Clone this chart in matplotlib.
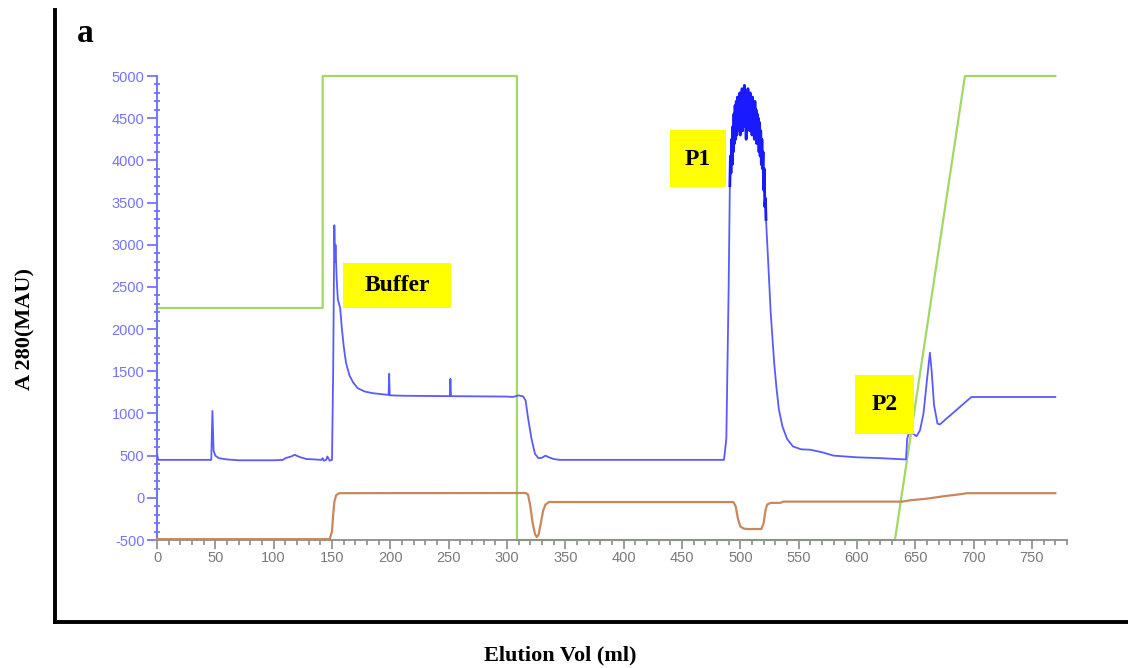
import matplotlib
matplotlib.use("Agg")
import matplotlib.pyplot as plt
from matplotlib.patches import Rectangle
from matplotlib.ticker import MultipleLocator

# ---------------- data ----------------
uv_x = [0, 1, 46.5, 47.5, 48.5, 50, 53, 60, 70, 100, 108, 110, 115, 118, 122, 128, 135,
        141, 142, 143, 145, 146, 148, 150, 151, 152, 152.6, 153, 154, 155, 157, 158.5,
        160, 162, 165, 168, 172, 178, 185, 195, 198.5, 199, 199.5, 210, 251, 251.5, 252,
        300, 305, 310, 314, 316, 318, 321, 324, 327, 330, 333, 336, 340, 345, 486, 488,
        490, 491]
uv_y = [520, 450, 450, 1030, 560, 500, 470, 455, 445, 445, 450, 470, 490, 510, 485, 460, 455,
        450, 470, 440, 450, 490, 440, 450, 1500, 3230, 2800, 3000, 2600, 2350, 2250, 2000,
        1800, 1600, 1450, 1370, 1300, 1260, 1240, 1225, 1220, 1470, 1215, 1210, 1205, 1410, 1205,
        1200, 1195, 1215, 1200, 1150, 950, 700, 520, 470, 475, 500, 480, 460, 450, 450, 700,
        2500, 3700]

p1_top_x = [491.0, 491.5, 492.0, 492.5, 493.0, 493.5, 494.0, 494.5, 495.0, 495.5, 496.0,
            496.5, 497.0, 497.5, 498.0, 498.5, 499.0, 499.5, 500.0, 500.5, 501.0, 501.5,
            502.0, 502.5, 503.0, 503.5, 504.0, 504.5, 505.0, 505.5, 506.0, 506.5, 507.0,
            507.5, 508.0, 508.5, 509.0, 509.5, 510.0, 510.5, 511.0, 511.5, 512.0, 512.5,
            513.0, 513.5, 514.0, 514.5, 515.0, 515.5, 516.0, 516.5, 517.0, 517.5, 518.0,
            518.5, 519.0, 519.5, 520.0, 520.5, 521.0, 521.5, 522.0]
p1_top_y = [3700, 4050, 3850, 4250, 3950, 4400, 4100, 4550, 4200, 4650, 4250,
            4700, 4300, 4750, 4350, 4650, 4400, 4800, 4300, 4750, 4450, 4850,
            4350, 4800, 4500, 4890, 4400, 4700, 4250, 4800, 4400, 4850, 4450,
            4750, 4350, 4800, 4400, 4700, 4300, 4750, 4350, 4650, 4250, 4700,
            4300, 4600, 4200, 4550, 4250, 4500, 4100, 4450, 4050, 4350, 3950,
            4250, 3900, 4100, 3650, 3900, 3450, 3550, 3300]

tail_x = [522, 523.5, 526, 529, 531, 533, 536, 540, 545, 552, 560, 570, 580, 600, 620, 642,
          643, 645, 648, 651, 654, 657, 660, 662.5, 664, 666, 669, 671, 698, 770]
tail_y = [3300, 2900, 2200, 1600, 1300, 1050, 850, 700, 610, 575, 570, 540, 500, 480, 470, 455,
          700, 790, 760, 730, 800, 1000, 1400, 1720, 1500, 1100, 880, 870, 1195, 1195]

conc_x = [0, 0, 142, 142, 308.5, 308.5, 632.5, 692.5, 770]
conc_y = [-500, 2250, 2250, 5000, 5000, -500, -500, 5000, 5000]

cond_x = [0, 148, 150, 151, 152, 153.5, 156, 316, 318, 320, 322, 324, 325.5, 327, 329, 331,
          333, 336, 494, 496, 498, 500, 503, 506, 518, 520, 521.5, 523, 526, 534, 537, 639,
          645, 660, 675, 690, 694, 770]
cond_y = [-490, -490, -400, -200, -50, 30, 55, 57, 40, -100, -300, -430, -464, -440, -300,
          -150, -80, -50, -50, -100, -250, -340, -365, -370, -370, -300, -150, -80, -60, -60,
          -45, -45, -30, -10, 20, 45, 55, 55]

x_ticks = list(range(0, 751, 50))
y_ticks = list(range(-500, 5001, 500))

labels = ["Buffer", "P1", "P2"]

# ---------------- figure ----------------
W, H = 1128, 668
fig = plt.figure(figsize=(W / 100, H / 100), dpi=100)
fig.patch.set_facecolor("white")

serif = ["Liberation Serif", "DejaVu Serif"]
sans = ["Liberation Sans", "DejaVu Sans"]

# outer frame (left + bottom black lines)
fr = fig.add_axes([55 / W, 1 - 622 / H, 1 - 55 / W, (622 - 10) / H])
fr.set_xticks([]); fr.set_yticks([])
for s in ["top", "right"]:
    fr.spines[s].set_visible(False)
for s in ["left", "bottom"]:
    fr.spines[s].set_linewidth(2.8)
    fr.spines[s].set_color("black")
fr.patch.set_alpha(0)

# inner chromatogram axes
ax = fig.add_axes([157 / W, 1 - 540 / H, (1067 - 157) / W, (540 - 76) / H])
ax.patch.set_alpha(0)
ax.set_xlim(0, 780)
ax.set_ylim(-500, 5000)

blue = "#5a5aff"
ax.plot(conc_x, conc_y, color="#a2d864", lw=1.6, clip_on=False, zorder=2)
ax.plot(cond_x, cond_y, color="#c9875c", lw=1.6, clip_on=False, zorder=3)
ax.plot(uv_x, uv_y, color=blue, lw=1.3, zorder=4)
ax.plot(tail_x, tail_y, color=blue, lw=1.3, zorder=4)
ax.plot(p1_top_x, p1_top_y, color="#1a1aff", lw=2.0, zorder=4)

for s in ["top", "right"]:
    ax.spines[s].set_visible(False)
ax.spines["left"].set_color("#6b6bff")
ax.spines["left"].set_linewidth(1.3)
ax.spines["bottom"].set_color("#8c8c8c")
ax.spines["bottom"].set_linewidth(1.3)

ax.set_xticks(x_ticks)
ax.set_xticklabels([str(v) for v in x_ticks])
ax.set_yticks(y_ticks)
ax.set_yticklabels([str(v) for v in y_ticks])
ax.xaxis.set_minor_locator(MultipleLocator(10))
ax.yaxis.set_minor_locator(MultipleLocator(100))
ax.tick_params(axis="x", which="major", length=6.5, width=1.2, color="#8c8c8c",
               labelcolor="#7a7a7a", labelsize=10.5, pad=1.5, direction="out")
ax.tick_params(axis="x", which="minor", length=3.5, width=1.2, color="#8c8c8c", direction="out")
ax.tick_params(axis="y", which="major", length=7.5, width=1.2, color="#6b6bff",
               labelcolor="#7474ff", labelsize=10.5, pad=1.5, direction="out")
ax.tick_params(axis="y", which="minor", length=4.5, width=1.2, color="#6b6bff", direction="inout")
for lab in ax.get_xticklabels() + ax.get_yticklabels():
    lab.set_family(sans)

# yellow label boxes
boxes = [(159.4, 2250, 92.6, 533.5, 205.7, 2517),
         (439.7, 3684, 48.0, 676, 463.3, 4016),
         (598.3, 757, 50.5, 699, 623.6, 1106)]
for lab, (x0, y0, w, h, tx, ty) in zip(labels, boxes):
    ax.add_patch(Rectangle((x0, y0), w, h, facecolor="#ffff00", edgecolor="none",
                           zorder=6, clip_on=False))
    ax.text(tx, ty, lab, ha="center", va="center", fontsize=17, fontweight="bold",
            family=serif, color="black", zorder=7)

# panel letter and axis titles
fig.text(85 / W, 1 - 33 / H, "a", ha="center", va="center", fontsize=24,
         fontweight="bold", family=serif)
fig.text(25 / W, 1 - 329 / H, "A 280(MAU)", ha="center", va="center", rotation=90,
         fontsize=16, fontweight="bold", family=serif)
fig.text(560 / W, 1 - 655 / H, "Elution Vol (ml)", ha="center", va="center",
         fontsize=16, fontweight="bold", family=serif)

fig.savefig("out.png", dpi=100)
